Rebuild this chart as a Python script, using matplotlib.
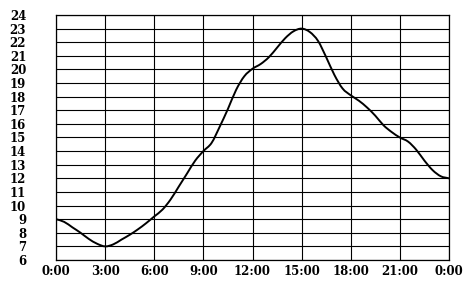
import numpy as np
import matplotlib
matplotlib.use('Agg')
import matplotlib.pyplot as plt
from matplotlib.path import Path
from matplotlib.patches import PathPatch
from matplotlib.font_manager import FontProperties

# temperature, every half hour
hours = np.arange(0, 24.5, 0.5)
temps = [9.0, 8.8, 8.4, 8.0, 7.55, 7.2, 7.0, 7.15, 7.5, 7.85, 8.25, 8.7,
         9.2, 9.7, 10.45, 11.4, 12.35, 13.3, 14.0, 14.6, 15.8, 17.1, 18.5, 19.5,
         20.05, 20.4, 20.9, 21.6, 22.3, 22.8, 23.0, 22.75, 22.1, 20.9, 19.6, 18.6,
         18.1, 17.7, 17.2, 16.6, 15.9, 15.4, 15.0, 14.7, 14.1, 13.3, 12.6, 12.15, 12.0]

xticks = [0, 3, 6, 9, 12, 15, 18, 21, 24]
xlabels = ['0:00', '3:00', '6:00', '9:00', '12:00', '15:00', '18:00', '21:00', '0:00']
yticks = list(range(6, 25))


def smooth_path(x, y):
    # catmull-rom through the points, written as cubic beziers
    x = np.asarray(x, float)
    y = np.asarray(y, float)
    px = np.concatenate([[2*x[0]-x[1]], x, [2*x[-1]-x[-2]]])
    py = np.concatenate([[2*y[0]-y[1]], y, [2*y[-1]-y[-2]]])
    verts = [(x[0], y[0])]
    codes = [Path.MOVETO]
    for i in range(1, len(px)-2):
        c1 = (px[i] + (px[i+1]-px[i-1])/6, py[i] + (py[i+1]-py[i-1])/6)
        c2 = (px[i+1] - (px[i+2]-px[i])/6, py[i+1] - (py[i+2]-py[i])/6)
        verts += [c1, c2, (px[i+1], py[i+1])]
        codes += [Path.CURVE4]*3
    return Path(verts, codes)


fig = plt.figure(figsize=(4.71, 2.81), dpi=100)
ax = fig.add_axes([56/471, 21/281, 393/471, 245/281])

ax.add_patch(PathPatch(smooth_path(hours, temps), facecolor='none',
                       edgecolor='black', linewidth=1.4, capstyle='round'))

ax.set_xlim(0, 24)
ax.set_ylim(6, 24)
ax.set_xticks(xticks)
ax.set_xticklabels(xlabels)
ax.set_yticks(yticks)
ax.grid(True, color='black', linewidth=0.8)
ax.set_axisbelow(True)
for s in ax.spines.values():
    s.set_linewidth(0.9)

fp = FontProperties(family='DejaVu Serif', weight='bold', size=8.5)
for lab in ax.get_xticklabels() + ax.get_yticklabels():
    lab.set_fontproperties(fp)
ax.tick_params(axis='both', length=0)
ax.tick_params(axis='y', pad=21.5)
ax.tick_params(axis='x', pad=3.5)

fig.savefig('out.png', dpi=100)
